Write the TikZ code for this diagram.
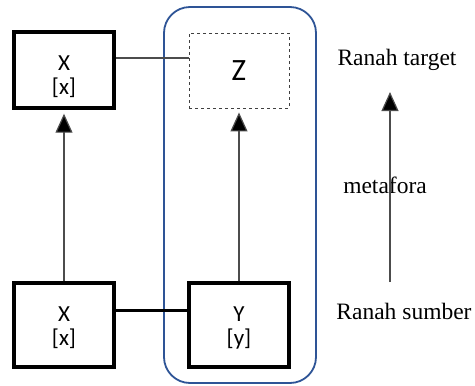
\documentclass[tikz,border=0pt]{standalone}
\usepackage{fontspec}
\setmainfont{Liberation Serif}
\newfontfamily\boxfont{Carlito}
\usetikzlibrary{arrows.meta}
\begin{document}
\begin{tikzpicture}[x=1pt,y=-1pt,
  bx/.style={draw=black,line width=3.4pt,minimum width=100pt,minimum height=76pt,inner sep=0pt,align=center,font=\boxfont\fontsize{23}{24}\selectfont},
  dbx/.style={draw=black!75,dashed,line width=0.9pt,minimum width=100pt,minimum height=75pt,inner sep=0pt,font=\boxfont\fontsize{31}{34}\selectfont},
  thin/.style={draw=black!70,line width=1.2pt},
  arr/.style={thin,-{Triangle[width=17pt,length=19pt,fill=black]}},
  lbl/.style={font=\fontsize{23.5}{26}\selectfont,inner sep=0pt}]
\useasboundingbox (0,0) rectangle (475,386);
\draw[draw={rgb,255:red,46;green,84;blue,150},line width=1.8pt,rounded corners=26pt] (164,7) rectangle (316,383);
\node[bx] (xt) at (64,70) {};
\node[bx,draw=none,fill=none,minimum height=0pt,minimum width=0pt] (xtl) at (64,77) {X\\{[x]}};
\node[dbx] (z) at (239,70.5) {Z};
\node[bx,minimum height=84pt] (xb) at (64,325) {};
\node[bx,draw=none,minimum height=0pt,minimum width=0pt] (xbl) at (64,328) {X\\{[x]}};
\node[bx,minimum height=84pt] (y) at (239,325) {};
\node[bx,draw=none,minimum height=0pt,minimum width=0pt] (yl) at (239,328) {Y\\{[y]}};
\draw[thin] (xt.east |- 0,58) coordinate (a1) -- (z.west |- 0,58);
\draw[line width=3pt] (xb.east |- 0,310) -- (y.west |- 0,310);
\draw[arr,shorten >=4pt] (xb.north) -- (xt.south);
\draw[arr,shorten >=4pt] (y.north) -- (z.south);
\node[lbl] (rt) at (397,60) {Ranah target};
\node[lbl] (rs) at (404,311) {Ranah sumber};
\node[lbl] (mf) at (385,185) {metafora};
\coordinate (ab) at (390,282);
\coordinate (at) at (390,92);
\draw[arr] (ab) -- (at);
\end{tikzpicture}
\end{document}
